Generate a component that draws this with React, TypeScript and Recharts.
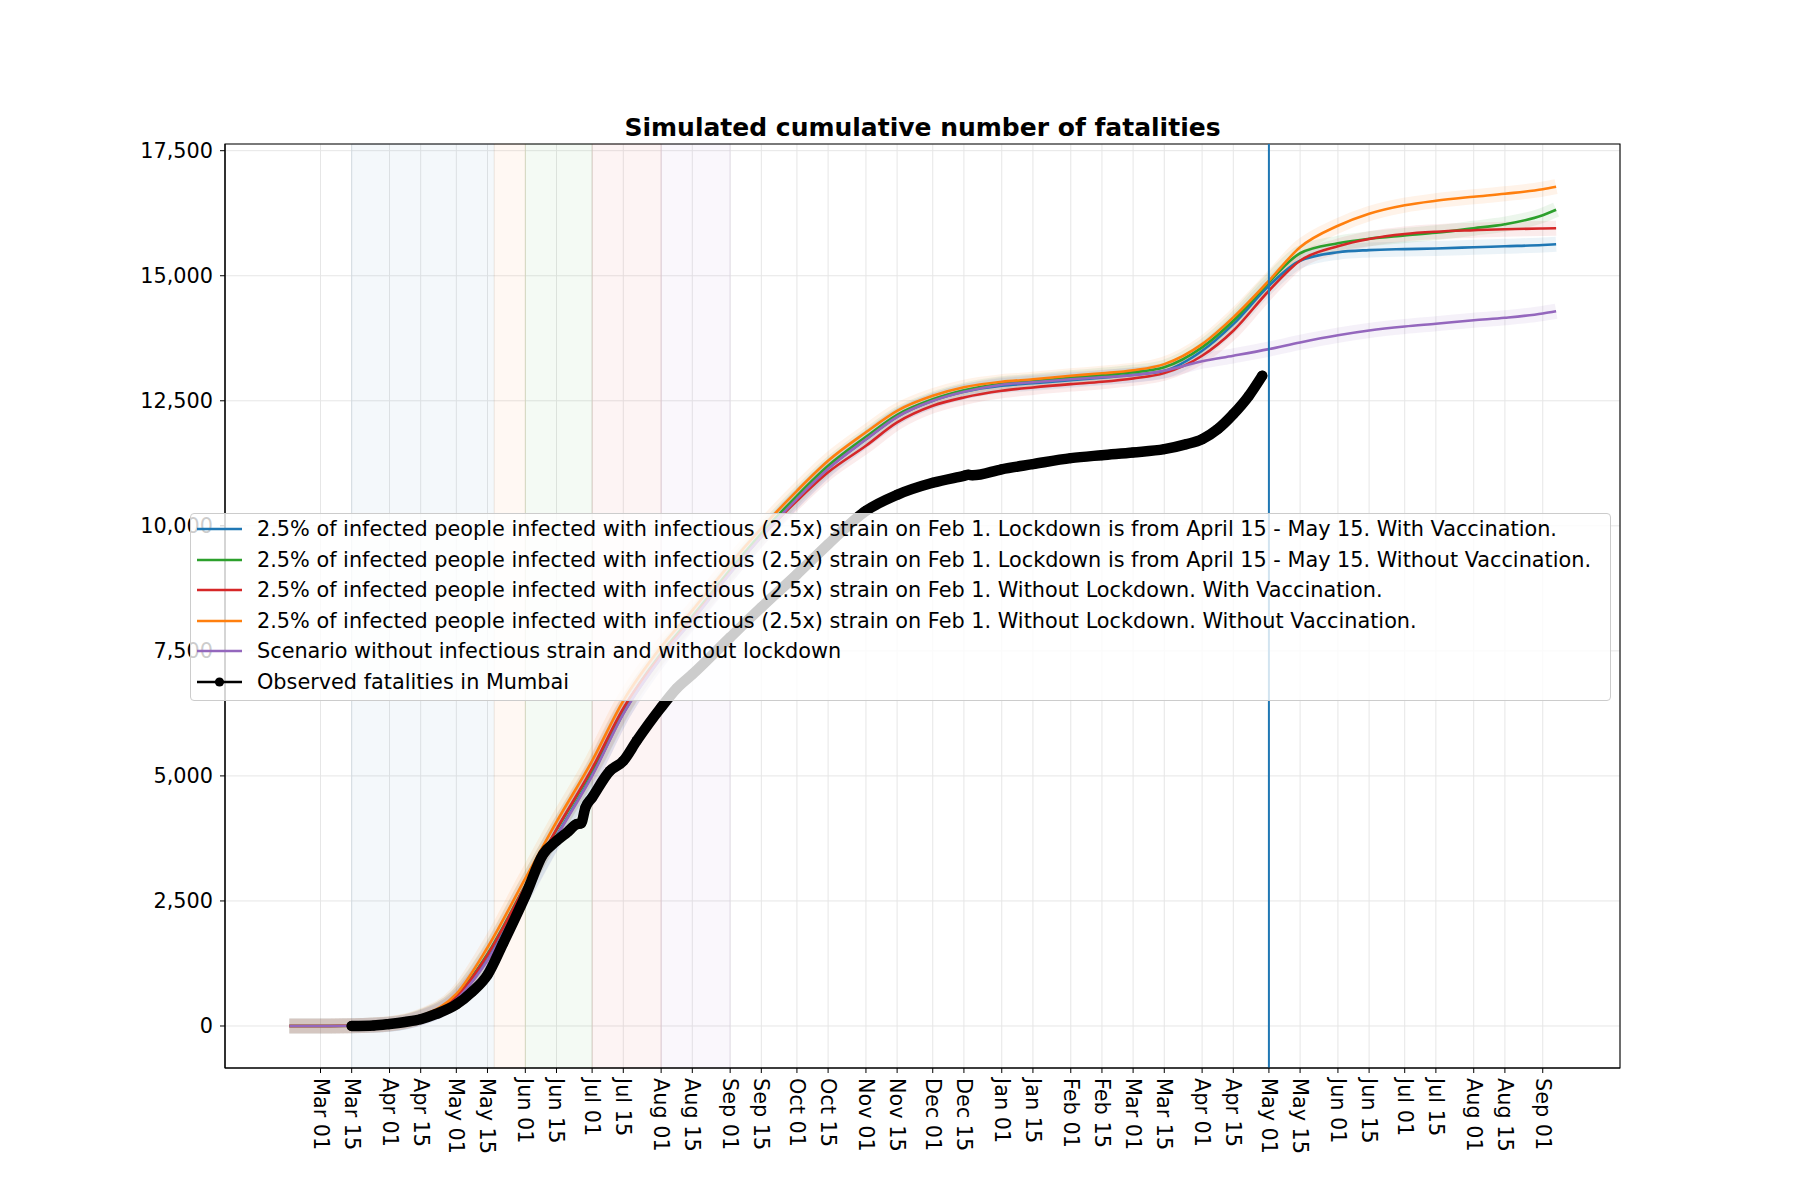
import { LineChart, Line, XAxis, YAxis, CartesianGrid, ReferenceArea, ReferenceLine } from 'recharts'

const FONT = '"DejaVu Sans", sans-serif'

// day offsets are measured from 2020-03-01
const dayOf = (iso: string) => (Date.parse(iso) - Date.parse('2020-03-01')) / 86400000

const X_MIN = -42.9
const X_MAX = 583.7
const Y_MIN = -840
const Y_MAX = 17634

const MONTHS = ['Jan', 'Feb', 'Mar', 'Apr', 'May', 'Jun', 'Jul', 'Aug', 'Sep', 'Oct', 'Nov', 'Dec']

const tickDates = [
  '2020-03-01', '2020-03-15', '2020-04-01', '2020-04-15', '2020-05-01', '2020-05-15',
  '2020-06-01', '2020-06-15', '2020-07-01', '2020-07-15', '2020-08-01', '2020-08-15',
  '2020-09-01', '2020-09-15', '2020-10-01', '2020-10-15', '2020-11-01', '2020-11-15',
  '2020-12-01', '2020-12-15', '2021-01-01', '2021-01-15', '2021-02-01', '2021-02-15',
  '2021-03-01', '2021-03-15', '2021-04-01', '2021-04-15', '2021-05-01', '2021-05-15',
  '2021-06-01', '2021-06-15', '2021-07-01', '2021-07-15', '2021-08-01', '2021-08-15',
  '2021-09-01',
]
const yTicks = [0, 2500, 5000, 7500, 10000, 12500, 15000, 17500]

// simulated scenarios, sampled on these dates
const simDates = [
  '2020-02-16', '2020-03-01', '2020-03-15', '2020-04-01', '2020-04-15', '2020-05-01',
  '2020-05-15', '2020-06-01', '2020-06-15', '2020-07-01', '2020-07-15', '2020-08-01',
  '2020-08-15', '2020-09-01', '2020-09-15', '2020-10-01', '2020-10-15', '2020-11-01',
  '2020-11-15', '2020-12-01', '2020-12-15', '2021-01-01', '2021-01-15', '2021-02-01',
  '2021-02-15', '2021-03-01', '2021-03-15', '2021-04-01', '2021-04-15', '2021-05-01',
  '2021-05-15', '2021-06-01', '2021-06-15', '2021-07-01', '2021-07-15', '2021-08-01',
  '2021-08-15', '2021-09-01', '2021-09-07',
]
const lockdownVacc = [
  0, 0, 5, 35, 165, 540, 1330, 2680, 3800, 5020, 6250, 7370, 8120, 9060, 9790, 10550,
  11150, 11730, 12180, 12500, 12680, 12800, 12850, 12910, 12960, 13020, 13100, 13500,
  14033, 14800, 15300, 15470, 15513, 15533, 15545, 15570, 15590, 15615, 15630,
]
const lockdownNoVacc = [
  0, 0, 5, 40, 180, 590, 1440, 2810, 3920, 5120, 6330, 7450, 8190, 9120, 9850, 10600,
  11200, 11780, 12220, 12530, 12710, 12840, 12890, 12960, 13010, 13070, 13170, 13567,
  14100, 14870, 15450, 15650, 15740, 15805, 15860, 15950, 16030, 16210, 16320,
]
const noLockdownVacc = [
  0, 0, 5, 40, 175, 580, 1420, 2800, 3930, 5150, 6350, 7420, 8150, 9070, 9780, 10500,
  11070, 11600, 12067, 12400, 12567, 12700, 12767, 12833, 12880, 12947, 13053, 13400,
  13900, 14700, 15300, 15590, 15735, 15835, 15880, 15910, 15930, 15945, 15950,
]
const noLockdownNoVacc = [
  0, 0, 5, 45, 195, 640, 1570, 2950, 4080, 5300, 6500, 7580, 8310, 9240, 9950, 10700,
  11300, 11870, 12300, 12600, 12770, 12880, 12930, 13000, 13050, 13110, 13233, 13633,
  14167, 14900, 15570, 16000, 16240, 16410, 16500, 16580, 16640, 16730, 16780,
]
const noStrain = [
  0, 0, 5, 35, 160, 530, 1310, 2660, 3780, 5000, 6240, 7360, 8110, 9050, 9780, 10540,
  11140, 11730, 12180, 12500, 12680, 12820, 12870, 12930, 12970, 13010, 13100, 13290,
  13400, 13533, 13667, 13810, 13905, 13985, 14040, 14110, 14160, 14245, 14290,
]

// observed cumulative fatalities in Mumbai
const obsDates = [
  '2020-03-15', '2020-03-25', '2020-04-01', '2020-04-08', '2020-04-15', '2020-04-22',
  '2020-05-01', '2020-05-08', '2020-05-15', '2020-05-22', '2020-06-01', '2020-06-09',
  '2020-06-15', '2020-06-20', '2020-06-24', '2020-06-26', '2020-06-28', '2020-07-01',
  '2020-07-09', '2020-07-15', '2020-07-21', '2020-08-01', '2020-08-08', '2020-08-15',
  '2020-09-01', '2020-09-15', '2020-10-01', '2020-10-15', '2020-11-01', '2020-11-15',
  '2020-12-01', '2020-12-15', '2020-12-17', '2020-12-19', '2021-01-01', '2021-01-15',
  '2021-02-01', '2021-02-15', '2021-03-01', '2021-03-15', '2021-03-25', '2021-04-01',
  '2021-04-08', '2021-04-15', '2021-04-22', '2021-04-28',
]
const obsValues = [
  0, 10, 40, 80, 135, 240, 430, 680, 1020, 1650, 2600, 3433, 3700, 3880, 4033, 4050,
  4367, 4567, 5100, 5300, 5700, 6370, 6750, 7030, 7770, 8370, 9030, 9630, 10300, 10620,
  10860, 11000, 11020, 11010, 11130, 11233, 11353, 11413, 11467, 11533, 11633, 11733,
  11933, 12233, 12600, 13000,
]

const phaseBounds = ['2020-03-15', '2020-05-18', '2020-06-01', '2020-07-01', '2020-08-01', '2020-09-01']
const phaseColors = ['#1f77b4', '#ff7f0e', '#2ca02c', '#d62728', '#9467bd']

const vlineDate = '2021-05-01'

const series = [
  { key: 'lockdownVacc', color: '#1f77b4', label: '2.5% of infected people infected with infectious (2.5x) strain on Feb 1. Lockdown is from April 15 - May 15. With Vaccination.' },
  { key: 'lockdownNoVacc', color: '#2ca02c', label: '2.5% of infected people infected with infectious (2.5x) strain on Feb 1. Lockdown is from April 15 - May 15. Without Vaccination.' },
  { key: 'noLockdownVacc', color: '#d62728', label: '2.5% of infected people infected with infectious (2.5x) strain on Feb 1. Without Lockdown. With Vaccination.' },
  { key: 'noLockdownNoVacc', color: '#ff7f0e', label: '2.5% of infected people infected with infectious (2.5x) strain on Feb 1. Without Lockdown. Without Vaccination.' },
  { key: 'noStrain', color: '#9467bd', label: 'Scenario without infectious strain and without lockdown' },
]
const obsLabel = 'Observed fatalities in Mumbai'

const simRows = simDates.map((d, i) => ({
  t: dayOf(d),
  lockdownVacc: lockdownVacc[i],
  lockdownNoVacc: lockdownNoVacc[i],
  noLockdownVacc: noLockdownVacc[i],
  noLockdownNoVacc: noLockdownNoVacc[i],
  noStrain: noStrain[i],
}))
const obsRows = obsDates.map((d, i) => ({ t: dayOf(d), obs: obsValues[i] }))

const fmtDate = (t: number) => {
  const d = new Date(Date.parse('2020-03-01') + Math.round(t) * 86400000)
  return `${MONTHS[d.getUTCMonth()]} ${String(d.getUTCDate()).padStart(2, '0')}`
}

function XTick({ x, y, payload }: any) {
  return (
    <text
      transform={`translate(${x},${y}) rotate(90)`}
      textAnchor="start"
      dominantBaseline="central"
      fontSize={20.8}
      fontFamily={FONT}
      fill="#000"
    >
      {fmtDate(payload.value)}
    </text>
  )
}

function LegendBox() {
  const rows = [...series.map((s) => ({ label: s.label, color: s.color, dot: false })), { label: obsLabel, color: '#000', dot: true }]
  return (
    <div
      style={{
        position: 'absolute',
        left: 190,
        top: 513,
        width: 1421,
        height: 188,
        boxSizing: 'border-box',
        background: 'rgba(255,255,255,0.8)',
        border: '1px solid #cccccc',
        borderRadius: 4,
        fontFamily: FONT,
        fontSize: 20.8,
        color: '#000',
      }}
    >
      {rows.map((r, i) => (
        <div key={i} style={{ position: 'absolute', left: 0, top: i * 30.6, height: 30, display: 'flex', alignItems: 'center', whiteSpace: 'nowrap' }}>
          <svg width={66} height={30} style={{ display: 'block' }}>
            <line x1={6} x2={51} y1={15} y2={15} stroke={r.color} strokeWidth={2.5} />
            {r.dot && <circle cx={28.5} cy={15} r={4.6} fill="#000" />}
          </svg>
          <span>{r.label}</span>
        </div>
      ))}
    </div>
  )
}

export default function App() {
  const xTicks = tickDates.map(dayOf)
  return (
    <div style={{ position: 'absolute', left: 0, top: 0, width: 1800, height: 1200, background: '#fff' }}>
      <LineChart width={1800} height={1200} data={simRows} margin={{ top: 144, right: 180, bottom: 22, left: 135 }}>
        {phaseColors.map((c, i) => (
          <ReferenceArea
            key={c}
            x1={dayOf(phaseBounds[i])}
            x2={dayOf(phaseBounds[i + 1])}
            y1={Y_MIN}
            y2={Y_MAX}
            fill={c}
            fillOpacity={0.05}
            stroke={c}
            strokeOpacity={0.08}
          />
        ))}
        <CartesianGrid stroke="#e6e6e6" strokeWidth={1} />
        <XAxis
          dataKey="t"
          type="number"
          domain={[X_MIN, X_MAX]}
          ticks={xTicks}
          allowDataOverflow
          height={110}
          tickSize={5}
          tickMargin={5}
          tick={<XTick />}
          tickLine={{ stroke: '#000' }}
          axisLine={{ stroke: '#000', strokeWidth: 1.1 }}
          interval={0}
        />
        <YAxis
          type="number"
          domain={[Y_MIN, Y_MAX]}
          ticks={yTicks}
          allowDataOverflow
          width={90}
          tickSize={5}
          tickMargin={7}
          tickFormatter={(v: number) => v.toLocaleString('en-US')}
          tick={{ fill: '#000', fontSize: 20.8, fontFamily: FONT }}
          tickLine={{ stroke: '#000' }}
          axisLine={{ stroke: '#000', strokeWidth: 1.1 }}
          interval={0}
        />
        {series.map((s) => (
          <Line
            key={s.key + '-band'}
            dataKey={s.key}
            type="monotone"
            stroke={s.color}
            strokeWidth={15}
            strokeOpacity={0.09}
            dot={false}
            activeDot={false}
            legendType="none"
            isAnimationActive={false}
          />
        ))}
        {series.map((s) => (
          <Line
            key={s.key}
            dataKey={s.key}
            type="monotone"
            stroke={s.color}
            strokeWidth={2.6}
            dot={false}
            activeDot={false}
            isAnimationActive={false}
          />
        ))}
        <Line
          data={obsRows}
          dataKey="obs"
          type="monotone"
          stroke="#000"
          strokeWidth={10.5}
          strokeLinecap="round"
          strokeLinejoin="round"
          dot={{ r: 5, fill: '#000', stroke: 'none' }}
          activeDot={false}
          isAnimationActive={false}
        />
        <ReferenceLine x={dayOf(vlineDate)} stroke="#1f77b4" strokeWidth={2} />
        <ReferenceArea x1={X_MIN} x2={X_MAX} y1={Y_MIN} y2={Y_MAX} fill="none" stroke="#000" strokeWidth={1.1} />
      </LineChart>
      <svg width={1800} height={200} style={{ position: 'absolute', left: 0, top: 0, pointerEvents: 'none' }}>
        <text x={922.5} y={136} textAnchor="middle" fontFamily={FONT} fontWeight="bold" fontSize={25} fill="#000">
          Simulated cumulative number of fatalities
        </text>
      </svg>
      <LegendBox />
    </div>
  )
}
